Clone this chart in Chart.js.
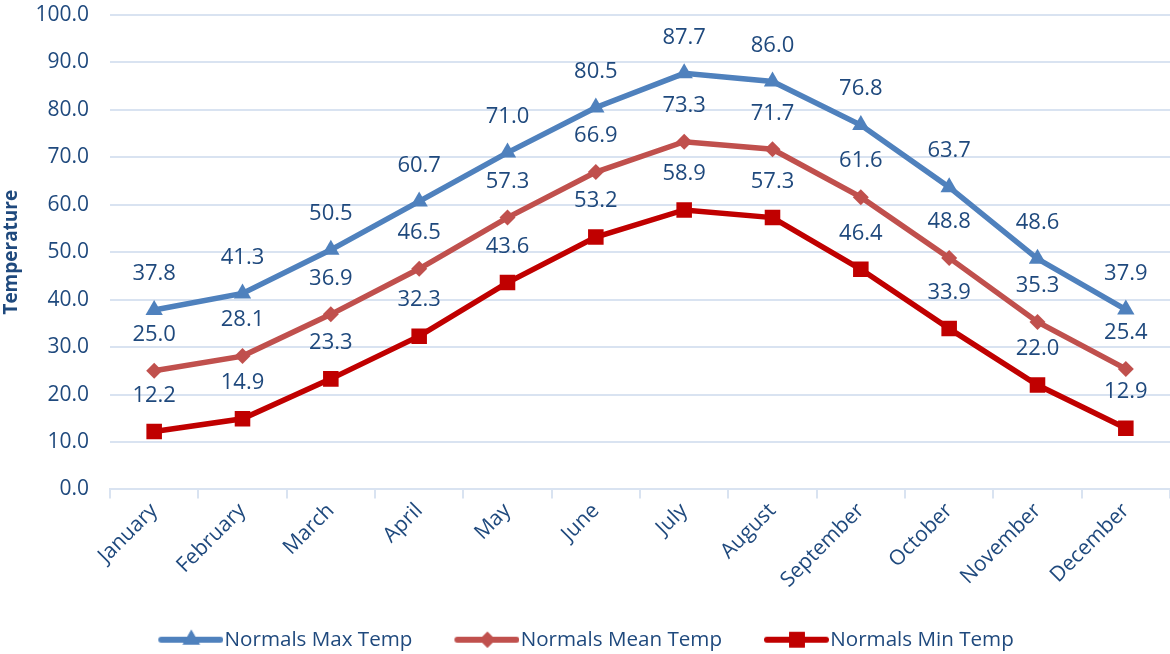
<!DOCTYPE html>
<html>
<head>
<meta charset="utf-8">
<script src="https://cdn.jsdelivr.net/npm/chart.js@4/dist/chart.umd.min.js"></script>
<style>
  html, body { margin: 0; padding: 0; background: #fff; }
  #wrap { width: 1170px; height: 654px; }
</style>
</head>
<body>
<div id="wrap"><canvas id="tempChart" width="1170" height="654"></canvas></div>
<script>
'use strict'

const months = ['January', 'February', 'March', 'April', 'May', 'June', 'July',
  'August', 'September', 'October', 'November', 'December']
const maxTemp = [37.8, 41.3, 50.5, 60.7, 71.0, 80.5, 87.7, 86.0, 76.8, 63.7, 48.6, 37.9]
const meanTemp = [25.0, 28.1, 36.9, 46.5, 57.3, 66.9, 73.3, 71.7, 61.6, 48.8, 35.3, 25.4]
const minTemp = [12.2, 14.9, 23.3, 32.3, 43.6, 53.2, 58.9, 57.3, 46.4, 33.9, 22.0, 12.9]
const seriesNames = ['Normals Max Temp', 'Normals Mean Temp', 'Normals Min Temp']

const textColor = '#1f497d'
const gridColor = '#d9e3f1'
const fontFamily = "'Open Sans', 'Noto Sans', sans-serif"

// line + marker swatch used as the legend point style
// (line sits at the right end so it nearly touches the label text)
const legendSwatch = (color, style, radius) => {
  const c = document.createElement('canvas')
  c.width = 76
  c.height = 26
  const ctx = c.getContext('2d')
  ctx.strokeStyle = color
  ctx.lineWidth = 6
  ctx.lineCap = 'round'
  ctx.beginPath()
  ctx.moveTo(14, 13)
  ctx.lineTo(73, 13)
  ctx.stroke()
  ctx.fillStyle = color
  Chart.helpers.drawPoint(ctx, { pointStyle: style, radius: radius, borderWidth: 0 }, 44, 13)
  ctx.fill()
  return c
}

// value labels above each point
const valueLabels = {
  id: 'valueLabels',
  afterDatasetsDraw (chart) {
    const ctx = chart.ctx
    ctx.save()
    ctx.fillStyle = textColor
    ctx.font = '22px ' + fontFamily
    ctx.textAlign = 'center'
    ctx.textBaseline = 'middle'
    chart.data.datasets.forEach(function (ds, i) {
      chart.getDatasetMeta(i).data.forEach(function (pt, j) {
        ctx.fillText(ds.data[j].toFixed(1), pt.x, pt.y - 36)
      })
    })
    ctx.restore()
  }
}

const makeSet = (label, data, color, style, radius) => ({
  label: label,
  data: data,
  borderColor: color,
  backgroundColor: color,
  borderWidth: 5.5,
  pointStyle: style,
  pointRadius: radius,
  pointHoverRadius: radius,
  pointBorderWidth: 0,
  tension: 0,
  swatch: legendSwatch(color, style, radius)
})

const ctx = document.getElementById('tempChart')
const myChart = new Chart(ctx, {
  type: 'line',
  data: {
    labels: months,
    datasets: [
      makeSet(seriesNames[0], maxTemp, '#4f81bd', 'triangle', 10),
      makeSet(seriesNames[1], meanTemp, '#c0504d', 'rectRot', 8),
      makeSet(seriesNames[2], minTemp, '#c00000', 'rect', 11)
    ]
  },
  options: {
    responsive: false,
    animation: false,
    layout: { autoPadding: false, padding: { top: 15, right: 0, left: 0, bottom: -6 } },
    plugins: {
      tooltip: { enabled: false },
      legend: {
        position: 'bottom',
        labels: {
          usePointStyle: true,
          pointStyleWidth: 58,
          color: textColor,
          font: { family: fontFamily, size: 20.6 },
          padding: 40,
          generateLabels (chart) {
            return chart.data.datasets.map(function (ds, i) {
              return {
                text: ds.label,
                pointStyle: ds.swatch,
                fontColor: textColor,
                strokeStyle: ds.borderColor,
                fillStyle: ds.borderColor,
                lineWidth: 0,
                datasetIndex: i
              }
            })
          }
        }
      }
    },
    scales: {
      x: {
        offset: true,
        grid: {
          offset: true,
          drawOnChartArea: false,
          drawTicks: true,
          tickLength: 9,
          color: gridColor,
          lineWidth: 2
        },
        border: { color: gridColor, width: 2 },
        ticks: {
          color: textColor,
          font: { family: fontFamily, size: 21 },
          minRotation: 45,
          maxRotation: 45,
          padding: 0
        },
        afterFit (scale) {
          scale.height = 100
          scale.paddingLeft = 0
          scale.paddingRight = 0
        }
      },
      y: {
        min: 0,
        max: 100,
        ticks: {
          stepSize: 10,
          color: textColor,
          font: { family: fontFamily, size: 21 },
          padding: 21,
          callback: (v) => v.toFixed(1)
        },
        grid: { color: gridColor, lineWidth: 2, drawTicks: false },
        border: { display: false },
        title: {
          display: true,
          text: 'Temperature',
          color: textColor,
          font: { family: fontFamily, size: 19, weight: 'bold' },
          padding: 0
        },
        afterFit (scale) {
          scale.width = 110
          scale.paddingTop = 0
          scale.paddingBottom = 0
        }
      }
    }
  },
  plugins: [valueLabels]
})
</script>
</body>
</html>
